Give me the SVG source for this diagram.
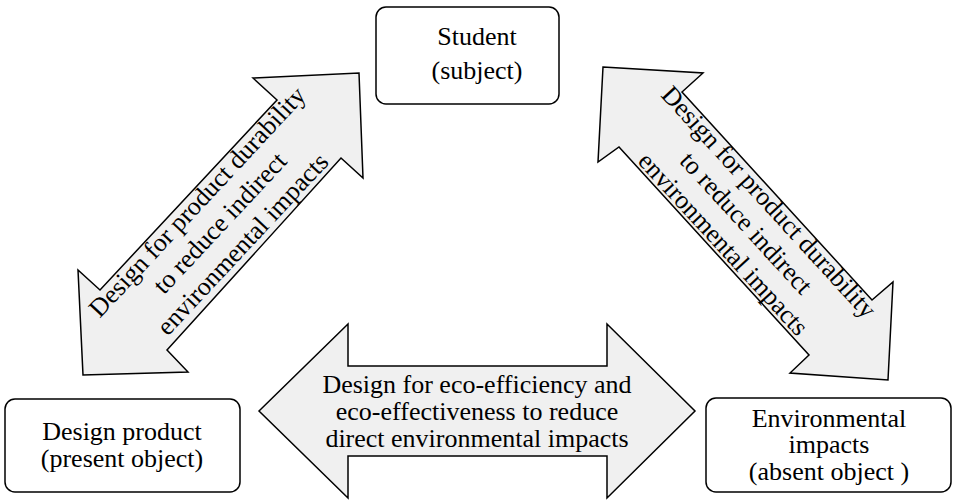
<svg xmlns="http://www.w3.org/2000/svg" width="953" height="501" viewBox="0 0 953 501">
  <style>
    .box { fill: #ffffff; stroke: #000000; stroke-width: 1.5; }
    .arrow { fill: #f0f0f0; stroke: #000000; stroke-width: 1.5; stroke-linejoin: miter; }
    text { font-family: "Liberation Serif", "Times New Roman", serif; font-size: 26px; fill: #000000; text-anchor: middle; }
  </style>

  <!-- Double-headed block arrows linking the three nodes -->
  <g id="connectors">
    <g id="arrow-product-student">
      <polygon class="arrow" points="359,73 363,178 341,158 167,350 188,372 83,375 78,270 100,290 277,100 253,78"/>
      <g transform="translate(221,224) rotate(-47)">
        <text x="0" y="-24">Design for product durability</text>
        <text x="0" y="7">to reduce indirect</text>
        <text x="0" y="38">environmental impacts</text>
      </g>
    </g>
    <g id="arrow-student-impacts">
      <polygon class="arrow" points="603,67 703,73 682,92 872,300 893,282 888,380 790,373 809,355 619,147 598,162"/>
      <g transform="translate(745,224) rotate(47.5)">
        <text x="0" y="-24">Design for product durability</text>
        <text x="0" y="7">to reduce indirect</text>
        <text x="0" y="38">environmental impacts</text>
      </g>
    </g>
    <g id="arrow-product-impacts">
      <polygon class="arrow" points="259,411 348,324 348,366 607,366 607,324 695,411 607,498 607,456 348,456 348,498"/>
      <text x="477" y="393">Design for eco-efficiency and</text>
      <text x="477" y="420">eco-effectiveness to reduce</text>
      <text x="477" y="447">direct environmental impacts</text>
    </g>
  </g>

  <g id="student">
    <rect class="box" x="376" y="7" width="183" height="97" rx="10"/>
    <text x="477" y="45">Student</text>
    <text x="477" y="79">(subject)</text>
  </g>

  <g id="design-product">
    <rect class="box" x="5" y="399" width="235" height="93" rx="10"/>
    <text x="122" y="440">Design product</text>
    <text x="122" y="467">(present object)</text>
  </g>

  <g id="environmental-impacts">
    <rect class="box" x="706" y="398" width="245" height="94" rx="10"/>
    <text x="829" y="427">Environmental</text>
    <text x="829" y="453">impacts</text>
    <text x="829" y="480">(absent object )</text>
  </g>
</svg>
